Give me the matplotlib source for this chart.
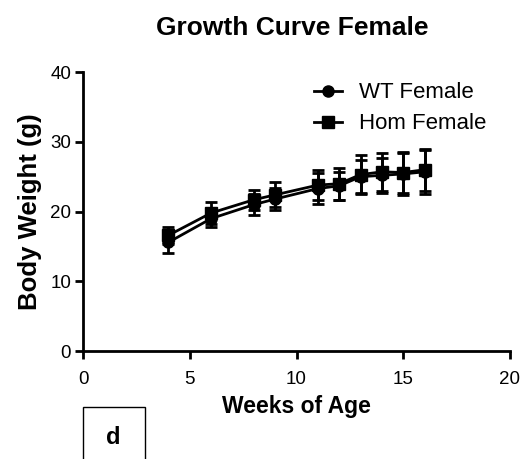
import numpy as np
import matplotlib
matplotlib.use('Agg')
import matplotlib.pyplot as plt
from matplotlib.patches import Rectangle
from matplotlib.lines import Line2D

plt.rcParams['font.family'] = ['Liberation Sans', 'DejaVu Sans']

# weeks of age and body weight (g), mean and error
weeks = [4, 6, 8, 9, 11, 12, 13, 14, 15, 16]
wt_mean = [15.6, 19.0, 21.0, 21.8, 23.3, 23.7, 25.0, 25.2, 25.4, 25.7]
wt_err = [1.5, 1.2, 1.5, 1.6, 2.2, 2.0, 2.4, 2.5, 3.0, 3.2]
hom_mean = [16.6, 19.8, 21.7, 22.4, 23.8, 24.0, 25.3, 25.7, 25.6, 26.0]
hom_err = [1.2, 1.6, 1.4, 1.8, 2.1, 2.3, 2.8, 2.7, 2.9, 3.0]

fig = plt.figure(figsize=(5.29, 4.59), dpi=100)
ax = fig.add_axes([0.157, 0.235, 0.807, 0.608])

ax.errorbar(weeks, wt_mean, yerr=wt_err, color='black', marker='o', ms=8,
            lw=2, elinewidth=2, capsize=4.5, capthick=2)
ax.errorbar(weeks, hom_mean, yerr=hom_err, color='black', marker='s', ms=8,
            lw=2, elinewidth=2, capsize=4.5, capthick=2)

ax.set_xlim(0, 20)
ax.set_ylim(0, 40)
ax.set_xticks([0, 5, 10, 15, 20])
ax.set_yticks([0, 10, 20, 30, 40])
for s in ['top', 'right']:
    ax.spines[s].set_visible(False)
for s in ['left', 'bottom']:
    ax.spines[s].set_linewidth(2)
ax.tick_params(width=2, length=5.5, labelsize=13.5, pad=3)
ax.tick_params(axis='x', pad=8.5)

ax.set_xlabel('Weeks of Age', fontsize=16.5, fontweight='bold', labelpad=5)
ax.set_ylabel('Body Weight (g)', fontsize=18.5, fontweight='bold', labelpad=6)
fig.text(0.553, 0.94, 'Growth Curve Female', ha='center', va='center',
         fontsize=19, fontweight='bold')

handles = [Line2D([], [], color='black', lw=2, marker='o', ms=8),
           Line2D([], [], color='black', lw=2, marker='s', ms=8)]
ax.legend(handles, ['WT Female', 'Hom Female'], loc='upper left',
          bbox_to_anchor=(0.493, 1.035), frameon=False, fontsize=16,
          handlelength=1.3, handletextpad=0.75, labelspacing=0.45)

# panel letter box
fig.patches.append(Rectangle((83 / 529, -0.01), 62 / 529, (459 - 407) / 459 + 0.01,
                             transform=fig.transFigure, fill=False, lw=1,
                             edgecolor='black'))
fig.text(113 / 529, 1 - 438 / 459, 'd', ha='center', va='center',
         fontsize=17, fontweight='bold')

fig.savefig('out.png', dpi=100)
